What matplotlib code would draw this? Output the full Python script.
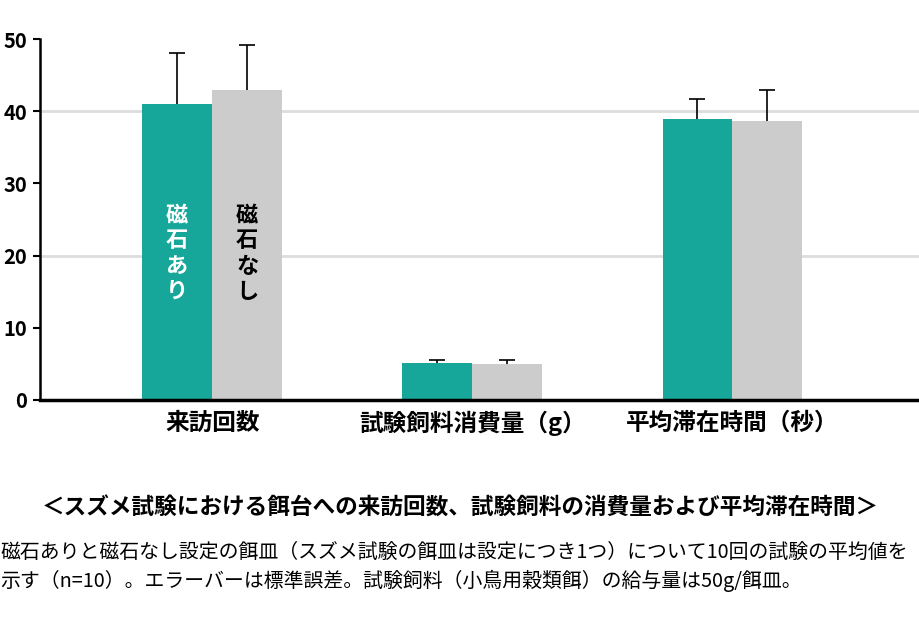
import matplotlib
matplotlib.use("Agg")
import matplotlib.pyplot as plt
import numpy as np

plt.rcParams['font.family'] = ['Noto Sans CJK JP', 'DejaVu Sans']

categories = ["来訪回数", "試験飼料消費量（g）", "平均滞在時間（秒）"]
with_magnet = [41.0, 5.1, 38.9]
with_magnet_err = [7.1, 0.4, 2.8]
without_magnet = [43.0, 5.0, 38.6]
without_magnet_err = [6.2, 0.5, 4.3]
series_names = ["磁石あり", "磁石なし"]
yticks = [0, 10, 20, 30, 40, 50]

teal = "#16a79a"
gray = "#cccccc"

fig = plt.figure(figsize=(9.2, 6.24), dpi=100)
ax = fig.add_axes([40/920, (624-400)/624, 1 - 40/920 + 0.004, (400-39)/624])

x = np.arange(len(categories))
w = 0.269
ax.bar(x - w/2, with_magnet, w, color=teal, zorder=2)
ax.bar(x + w/2, without_magnet, w, color=gray, zorder=2)
for offs, vals, errs in [(-w/2, with_magnet, with_magnet_err), (w/2, without_magnet, without_magnet_err)]:
    eb = ax.errorbar(x + offs, vals, yerr=[np.zeros(3), errs], fmt='none',
                     ecolor='black', elinewidth=1.2, capsize=6, capthick=1.2, zorder=3)
    caps = eb[1]
    caps[0].set_visible(False)

for yv in [20, 40]:
    ax.axhline(yv, color='#dddddd', lw=2, zorder=1)

ax.set_xlim(-0.662, 2.735)
ax.set_ylim(0, 50)
ax.set_yticks(yticks)
ax.set_yticklabels([str(t) for t in yticks], fontsize=14.5, fontweight='bold')
ax.set_xticks(x)
ax.set_xticklabels(categories, fontsize=17, fontweight='bold')
ax.tick_params(axis='x', length=0, pad=8)
ax.tick_params(axis='y', length=5, width=1.5, pad=4)
for s in ['top', 'right']:
    ax.spines[s].set_visible(False)
ax.spines['left'].set_linewidth(1.8)
ax.spines['bottom'].set_linewidth(2.5)

# vertical labels inside first pair of bars
ax.text(0 - w/2, 20.3, "\n".join(series_names[0]), color='white', fontsize=16,
        fontweight='bold', ha='center', va='center', linespacing=1.12, zorder=4)
ax.text(0 + w/2, 20.3, "\n".join(series_names[1]),
        color='black', fontsize=16, fontweight='bold', ha='center', va='center',
        linespacing=1.12, zorder=4)

fig.text(0.5, 1 - 508/624, "＜スズメ試験における餌台への来訪回数、試験飼料の消費量および平均滞在時間＞",
         ha='center', va='center', fontsize=16.3, fontweight='bold')
fig.text(0.0, 1 - 552/624, "磁石ありと磁石なし設定の餌皿（スズメ試験の餌皿は設定につき1つ）について10回の試験の平均値を",
         ha='left', va='center', fontsize=14.3)
fig.text(0.0, 1 - 581/624, "示す（n=10）。エラーバーは標準誤差。試験飼料（小鳥用穀類餌）の給与量は50g/餌皿。",
         ha='left', va='center', fontsize=14.3)

fig.savefig("out.png", dpi=100)
